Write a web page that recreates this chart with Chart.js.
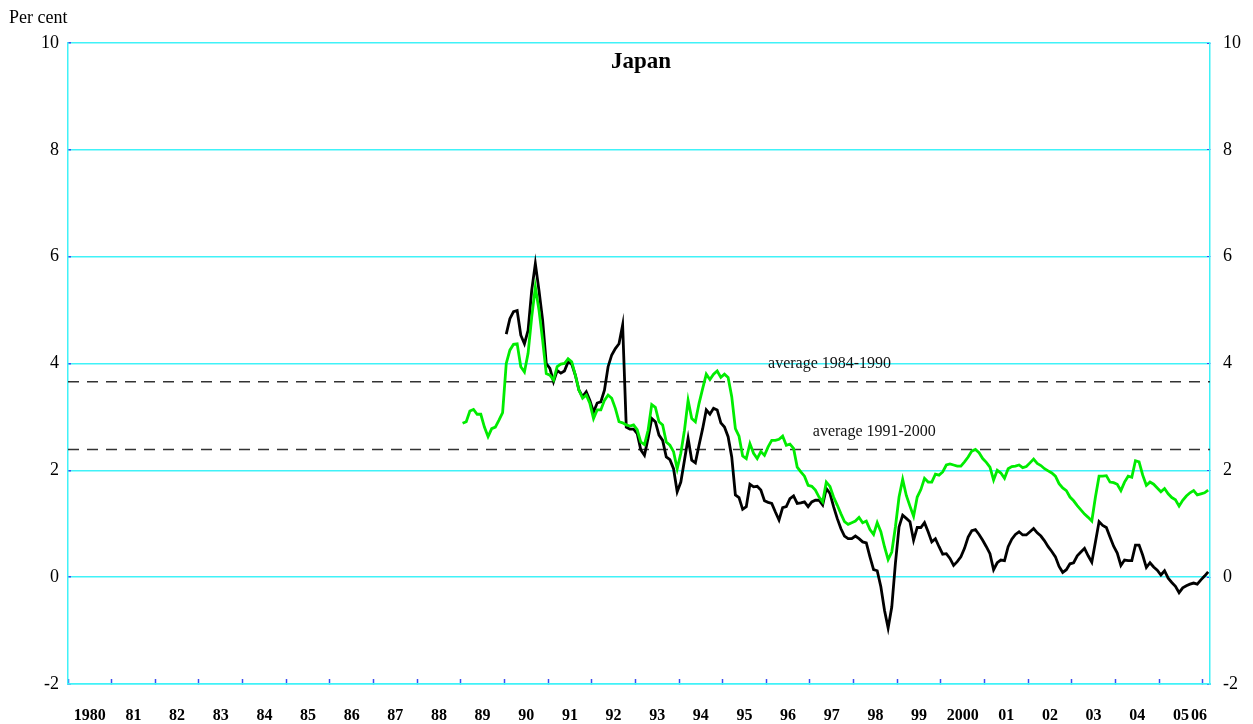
<!DOCTYPE html>
<html lang="en">
<head>
  <meta charset="UTF-8">
  <title>Japan</title>
  <script src="https://cdn.jsdelivr.net/npm/chart.js"></script>
  <style>
    html, body {
      margin: 0;
      padding: 0;
      background: #fff;
      overflow: hidden;
    }
  </style>
</head>
<body>
  <canvas id="japanChart" width="1253" height="724"></canvas>

<script>
  // x axis: months counted from Jan 1980, one label per year
  const firstYear = 1980;
  const yearLabels = ['1980', '81', '82', '83', '84', '85', '86', '87', '88', '89',
    '90', '91', '92', '93', '94', '95', '96', '97', '98', '99',
    '2000', '01', '02', '03', '04', '05', '06'];
  const yTicks = [-2, 0, 2, 4, 6, 8, 10];

  // green series, monthly from Jan 1989
  const greenStart = 1989;
  const greenValues = [
    2.88, 2.91, 3.11, 3.14, 3.05, 3.05, 2.81, 2.63, 2.78, 2.81, 2.94, 3.08, // 89
    4.00, 4.25, 4.36, 4.37, 3.94, 3.84, 4.19, 4.87, 5.43, 5.00, 4.44, 3.81, // 90
    3.78, 3.69, 3.94, 3.99, 4.00, 4.09, 4.03, 3.78, 3.50, 3.35, 3.41, 3.25, // 91
    2.97, 3.13, 3.13, 3.31, 3.41, 3.35, 3.16, 2.91, 2.89, 2.85, 2.83, 2.85, // 92
    2.76, 2.53, 2.48, 2.75, 3.23, 3.18, 2.91, 2.85, 2.53, 2.47, 2.35, 2.03, // 93
    2.32, 2.75, 3.31, 2.97, 2.91, 3.25, 3.53, 3.80, 3.70, 3.80, 3.86, 3.74, // 94
    3.80, 3.74, 3.38, 2.78, 2.64, 2.27, 2.22, 2.50, 2.32, 2.22, 2.35, 2.28, // 95
    2.44, 2.56, 2.56, 2.58, 2.64, 2.47, 2.49, 2.41, 2.06, 1.97, 1.89, 1.72, // 96
    1.70, 1.63, 1.50, 1.41, 1.78, 1.70, 1.50, 1.35, 1.19, 1.04, 0.99, 1.02, // 97
    1.05, 1.12, 1.02, 1.05, 0.89, 0.80, 1.02, 0.85, 0.57, 0.33, 0.47, 0.94, // 98
    1.50, 1.83, 1.53, 1.33, 1.14, 1.50, 1.64, 1.85, 1.78, 1.78, 1.93, 1.91, // 99
    1.97, 2.10, 2.12, 2.10, 2.08, 2.08, 2.16, 2.25, 2.36, 2.39, 2.33, 2.22, // 2000
    2.15, 2.06, 1.82, 2.00, 1.95, 1.85, 2.03, 2.07, 2.08, 2.10, 2.05, 2.07, // 01
    2.14, 2.21, 2.13, 2.09, 2.03, 1.99, 1.95, 1.89, 1.75, 1.67, 1.62, 1.50, // 02
    1.43, 1.34, 1.26, 1.18, 1.12, 1.05, 1.50, 1.89, 1.89, 1.90, 1.78, 1.77, // 03
    1.74, 1.62, 1.78, 1.89, 1.87, 2.18, 2.16, 1.91, 1.72, 1.78, 1.74, 1.67, // 04
    1.60, 1.66, 1.56, 1.49, 1.45, 1.33, 1.44, 1.52, 1.58, 1.62, 1.54, 1.56, // 05
    1.58, 1.63                                                              // 06
  ];

  // black series, monthly from Jan 1990
  const blackStart = 1990;
  const blackValues = [
    4.55, 4.84, 4.97, 4.99, 4.53, 4.37, 4.62, 5.37, 5.87, 5.37, 4.81, 4.00, // 90
    3.91, 3.66, 3.87, 3.82, 3.86, 4.03, 3.99, 3.78, 3.50, 3.38, 3.47, 3.31, // 91
    3.09, 3.26, 3.28, 3.50, 3.94, 4.16, 4.28, 4.37, 4.72, 2.81, 2.77, 2.77, // 92
    2.69, 2.38, 2.28, 2.60, 2.97, 2.91, 2.66, 2.56, 2.25, 2.20, 2.03, 1.60, // 93
    1.78, 2.19, 2.60, 2.19, 2.14, 2.47, 2.78, 3.13, 3.05, 3.16, 3.13, 2.89, // 94
    2.81, 2.63, 2.25, 1.54, 1.49, 1.27, 1.32, 1.74, 1.69, 1.70, 1.63, 1.43, // 95
    1.40, 1.38, 1.22, 1.07, 1.30, 1.32, 1.47, 1.52, 1.38, 1.39, 1.41, 1.32, // 96
    1.41, 1.44, 1.44, 1.35, 1.66, 1.57, 1.32, 1.10, 0.91, 0.77, 0.72, 0.72, // 97
    0.77, 0.72, 0.66, 0.64, 0.38, 0.14, 0.12, -0.18, -0.62, -0.95, -0.56, 0.26, // 98
    0.94, 1.16, 1.10, 1.04, 0.69, 0.93, 0.93, 1.02, 0.85, 0.66, 0.72, 0.57, // 99
    0.43, 0.44, 0.35, 0.22, 0.29, 0.38, 0.54, 0.75, 0.87, 0.89, 0.80, 0.69, // 2000
    0.57, 0.44, 0.14, 0.27, 0.32, 0.31, 0.57, 0.71, 0.80, 0.85, 0.79, 0.79, // 01
    0.85, 0.91, 0.83, 0.77, 0.68, 0.57, 0.48, 0.38, 0.20, 0.09, 0.14, 0.25, // 02
    0.27, 0.40, 0.47, 0.54, 0.40, 0.28, 0.66, 1.04, 0.97, 0.93, 0.75, 0.58, // 03
    0.45, 0.22, 0.32, 0.31, 0.31, 0.60, 0.60, 0.41, 0.18, 0.27, 0.19, 0.13, // 04
    0.04, 0.12, -0.02, -0.10, -0.17, -0.29, -0.20, -0.16, -0.13, -0.11, -0.13, -0.05, // 05
    0.02, 0.10                                                              // 06
  ];

  const avg1984to1990 = 3.66;
  const avg1991to2000 = 2.39;

  const lastMonth = 314; // axis runs to the end of Feb 2006

  function toPoints(startYear, values) {
    const offset = (startYear - firstYear) * 12;
    return values.map((v, i) => ({ x: offset + i + 0.5, y: v }));
  }

  // where each year label goes (mid-year, last one squeezed in)
  const labelPos = {};
  yearLabels.forEach((lab, i) => {
    const pos = i < yearLabels.length - 1 ? i * 12 + 6 : 311;
    labelPos[pos] = lab;
  });

  const cyan = '#40f2f8';
  const tickBlue = '#3a4cf0';
  const serif = '"Liberation Serif", "Times New Roman", serif';

  const textPlugin = {
    id: 'texts',
    afterDraw(chart) {
      const ctx = chart.ctx;
      const xs = chart.scales.x;
      const ys = chart.scales.y;
      const area = chart.chartArea;
      ctx.save();
      ctx.fillStyle = '#000';
      ctx.textBaseline = 'middle';

      ctx.font = 'bold 23px ' + serif;
      ctx.textAlign = 'center';
      ctx.fillText('Japan', (area.left + area.right) / 2 + 2, 62);

      ctx.font = '18px ' + serif;
      ctx.textAlign = 'left';
      ctx.fillText('Per cent', 9, 18);

      ctx.font = '16px ' + serif;
      ctx.textAlign = 'center';
      ctx.fillStyle = '#111';
      ctx.fillText('average 1984-1990', xs.getPixelForValue(209.4), ys.getPixelForValue(3.99));
      ctx.fillText('average 1991-2000', xs.getPixelForValue(221.7), ys.getPixelForValue(2.72));
      ctx.restore();
    }
  };

  new Chart(document.getElementById('japanChart'), {
    type: 'line',
    data: {
      datasets: [
        {
          label: 'green',
          data: toPoints(greenStart, greenValues),
          borderColor: '#00ec00',
          borderWidth: 2.8,
          pointRadius: 0,
          tension: 0
        },
        {
          label: 'black',
          data: toPoints(blackStart, blackValues),
          borderColor: '#000',
          borderWidth: 2.8,
          pointRadius: 0,
          tension: 0
        },
        {
          label: 'average 1984-1990',
          data: [{ x: 0, y: avg1984to1990 }, { x: lastMonth, y: avg1984to1990 }],
          borderColor: '#333',
          borderWidth: 1.5,
          borderDash: [11, 8],
          pointRadius: 0
        },
        {
          label: 'average 1991-2000',
          data: [{ x: 0, y: avg1991to2000 }, { x: lastMonth, y: avg1991to2000 }],
          borderColor: '#333',
          borderWidth: 1.5,
          borderDash: [11, 8],
          pointRadius: 0
        }
      ]
    },
    options: {
      responsive: false,
      animation: false,
      layout: { padding: { top: 43, left: 0, right: 0, bottom: 0 } },
      plugins: {
        legend: { display: false },
        title: { display: false },
        tooltip: { enabled: false }
      },
      scales: {
        x: {
          type: 'linear',
          min: 0,
          max: lastMonth,
          afterBuildTicks: (scale) => {
            const vals = [];
            for (let y = 0; y <= 26; y++) vals.push(y * 12);
            Object.keys(labelPos).forEach(p => vals.push(Number(p)));
            vals.sort((a, b) => a - b);
            scale.ticks = vals.map(v => ({ value: v }));
          },
          afterFit: (scale) => { scale.height = 40; },
          ticks: {
            autoSkip: false,
            maxRotation: 0,
            padding: 27,
            color: '#000',
            font: { family: serif, size: 16, weight: 'bold' },
            callback: (value) => labelPos[value] !== undefined ? labelPos[value] : ''
          },
          grid: {
            drawOnChartArea: false,
            tickLength: -5,
            tickWidth: 1.5,
            tickColor: (ctx) => (ctx.tick && ctx.tick.value % 12 === 0) ? tickBlue : 'rgba(0,0,0,0)'
          },
          border: { color: cyan, width: 1.5 }
        },
        y: {
          position: 'left',
          min: -2,
          max: 10,
          afterBuildTicks: (scale) => { scale.ticks = yTicks.map(v => ({ value: v })); },
          afterFit: (scale) => { scale.width = 68; },
          ticks: {
            padding: 12,
            color: '#000',
            font: { family: serif, size: 18 }
          },
          grid: {
            color: cyan,
            lineWidth: 1.5,
            tickLength: -3,
            tickColor: tickBlue
          },
          border: { color: cyan, width: 1.5 }
        },
        y2: {
          position: 'right',
          min: -2,
          max: 10,
          afterBuildTicks: (scale) => { scale.ticks = yTicks.map(v => ({ value: v })); },
          afterFit: (scale) => { scale.width = 43; },
          ticks: {
            padding: 16,
            color: '#000',
            font: { family: serif, size: 18 }
          },
          grid: {
            drawOnChartArea: false,
            tickLength: -3,
            tickColor: tickBlue
          },
          border: { color: cyan, width: 1.5 }
        }
      }
    },
    plugins: [textPlugin]
  });
</script>
</body>
</html>
